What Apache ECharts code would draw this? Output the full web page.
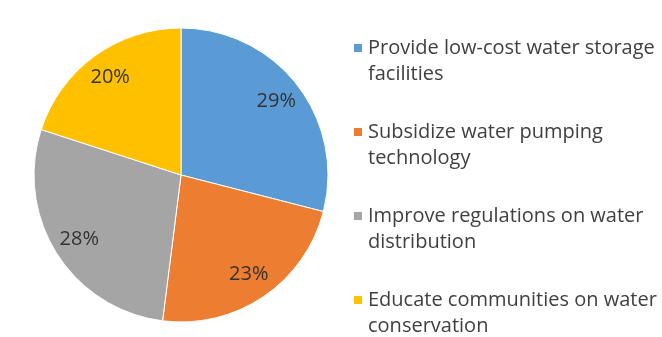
<!DOCTYPE html>
<html><head><meta charset="utf-8">
<script src="https://cdn.jsdelivr.net/npm/echarts@6/dist/echarts.min.js"></script>
<style>html,body{margin:0;padding:0;background:#fff}#c{width:662px;height:337px}</style>
</head><body><div id="c"></div>
<script>
var categories = [
  "Provide low-cost water storage\nfacilities",
  "Subsidize water pumping\ntechnology",
  "Improve regulations on water\ndistribution",
  "Educate communities on water\nconservation"
];
var values = [29, 23, 28, 20];
var colors = ["#5B9BD5", "#ED7D31", "#A5A5A5", "#FFC000"];

var data = categories.map(function (n, i) { return { name: n, value: values[i], itemStyle: { color: colors[i] } }; });
var labelData = categories.map(function (n, i) { return { name: n, value: values[i] }; });

var chart = echarts.init(document.getElementById('c'), null, { renderer: 'canvas' });
chart.setOption({
  animation: false,
  backgroundColor: '#fff',
  legend: {
    orient: 'vertical',
    left: 352,
    top: 35,
    height: 400,
    padding: 0,
    itemWidth: 10,
    itemHeight: 36,
    itemGap: 32,
    icon: 'path://M0,0h10v10h-10zM0,36h0',
    data: categories,
    textStyle: { fontFamily: 'Open Sans', fontSize: 20, color: '#404040', lineHeight: 26 }
  },
  series: [
    {
      type: 'pie',
      center: [181, 175],
      radius: [0, 147],
      startAngle: 90,
      clockwise: true,
      label: { show: false },
      labelLine: { show: false },
      itemStyle: { borderColor: '#fff', borderWidth: 1 },
      emphasis: { disabled: true },
      data: data
    },
    {
      type: 'pie',
      center: [181, 175],
      radius: [88, 147],
      startAngle: 90,
      clockwise: true,
      silent: true,
      legendHoverLink: false,
      itemStyle: { color: 'rgba(0,0,0,0)' },
      label: {
        show: true, position: 'inside', formatter: '{c}%',
        fontFamily: 'Open Sans', fontSize: 20, color: '#333'
      },
      labelLine: { show: false },
      emphasis: { disabled: true },
      data: labelData
    }
  ]
});
</script>
</body></html>
